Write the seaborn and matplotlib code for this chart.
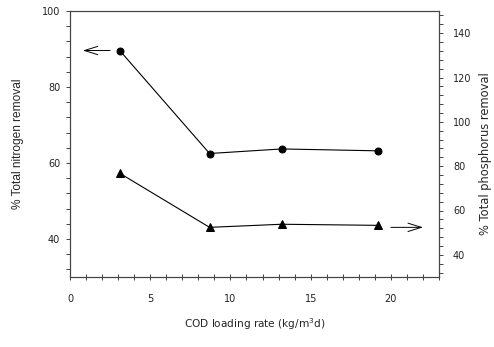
import matplotlib
matplotlib.use('Agg')
import matplotlib.pyplot as plt
import seaborn as sns
import pandas as pd
from matplotlib.ticker import MultipleLocator

# Data
cod_loading = [3.1, 8.7, 13.2, 19.2]
nitrogen_removal = [89.6, 62.5, 63.7, 63.2]
phosphorus_removal = [76.8, 52.4, 53.8, 53.3]

left_ticks = [40, 60, 80, 100]
right_ticks = [40, 60, 80, 100, 120, 140]
x_ticks = [0, 5, 10, 15, 20]

sns.set_theme(style='ticks')
plt.rcParams['font.family'] = ['DejaVu Sans']

df = pd.DataFrame({'cod': cod_loading, 'n': nitrogen_removal, 'p': phosphorus_removal})

W, H = 494, 347
fig = plt.figure(figsize=(W / 100, H / 100), dpi=100)
ax = fig.add_axes([70 / W, 1 - 277 / H, (439 - 70) / W, (277 - 11) / H])
ax2 = ax.twinx()

sns.lineplot(data=df, x='cod', y='n', ax=ax, color='black', marker='o',
             markersize=5, linewidth=0.8, markeredgecolor='black')
sns.lineplot(data=df, x='cod', y='p', ax=ax2, color='black', marker='^',
             markersize=6, linewidth=0.8, markeredgecolor='black')

ax.set_xlim(0, 23)
ax.set_ylim(30, 100)
ax2.set_ylim(30, 150)

ax.set_xticks(x_ticks)
ax.set_yticks(left_ticks)
ax2.set_yticks(right_ticks)
ax.xaxis.set_minor_locator(MultipleLocator(1))
ax.yaxis.set_minor_locator(MultipleLocator(4))
ax2.yaxis.set_minor_locator(MultipleLocator(4))

spine_col = '#444444'
for a in (ax, ax2):
    for s in a.spines.values():
        s.set_color(spine_col)
        s.set_linewidth(0.8)
        s.set_visible(True)

ax.tick_params(axis='x', which='both', direction='inout', length=4, width=0.7,
               color=spine_col, labelsize=7, pad=10, labelcolor='#222222')
ax.tick_params(axis='y', which='both', direction='out', length=3, width=0.7,
               color=spine_col, labelsize=7, pad=4, labelcolor='#222222')
ax2.tick_params(axis='y', which='both', direction='out', length=3, width=0.7,
                color=spine_col, labelsize=7, pad=7, labelcolor='#222222')

ax.set_xlabel('COD loading rate (kg/m$^3$d)', fontsize=7.6, labelpad=9)
ax.set_ylabel('% Total nitrogen removal', fontsize=8.6,
              family=['Liberation Sans', 'DejaVu Sans'])
ax2.set_ylabel('% Total phosphorus removal', fontsize=8.3)
ax.yaxis.set_label_coords(-0.125, 0.5)
ax2.yaxis.set_label_coords(1.108, 0.465)

# Arrows indicating which axis each series belongs to
ax.annotate('', xy=(0.8, 89.6), xytext=(2.5, 89.6),
            arrowprops=dict(arrowstyle='->,head_length=0.8,head_width=0.25',
                            color='black', lw=0.7, shrinkA=0, shrinkB=0))
ax2.annotate('', xy=(22.0, 52.4), xytext=(20.0, 52.4),
             arrowprops=dict(arrowstyle='->,head_length=0.8,head_width=0.25',
                             color='black', lw=0.7, shrinkA=0, shrinkB=0))

fig.savefig('out.png', dpi=100)
